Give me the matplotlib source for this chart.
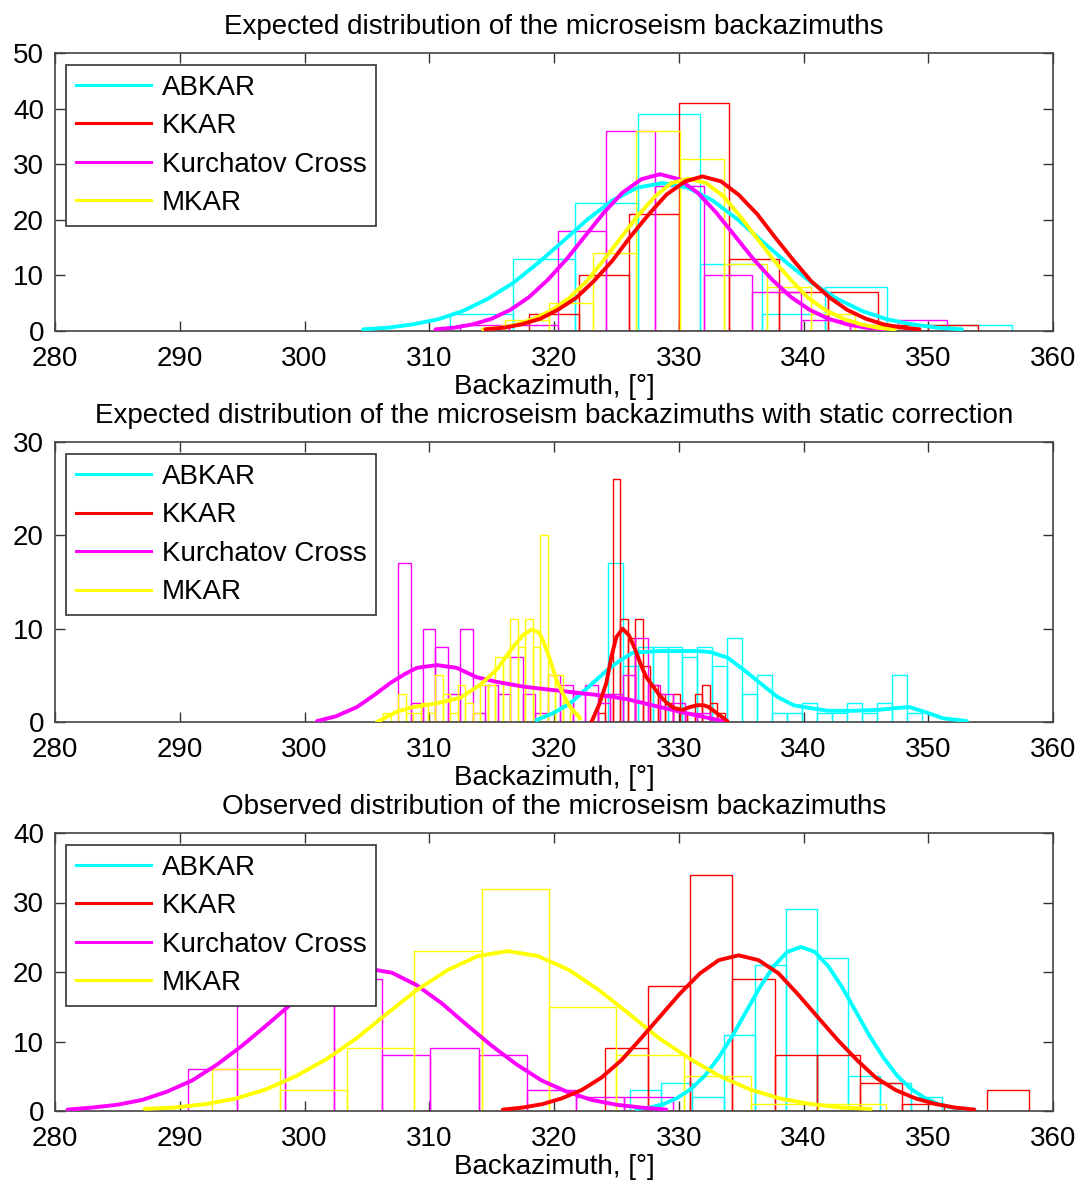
import numpy as np
import matplotlib
matplotlib.use('agg')
import matplotlib.pyplot as plt
from matplotlib.lines import Line2D

plt.rcParams['font.family'] = ['Liberation Sans', 'DejaVu Sans']

names = ['ABKAR', 'KKAR', 'Kurchatov Cross', 'MKAR']
colors = ['#00ffff', '#ff0000', '#ff00ff', '#ffff00']
xticks = [280, 290, 300, 310, 320, 330, 340, 350, 360]
titles = ['Expected distribution of the microseism backazimuths',
          'Expected distribution of the microseism backazimuths with static correction',
          'Observed distribution of the microseism backazimuths']
ymaxes = [50, 30, 40]
xlabel = 'Backazimuth, [\u00b0]'

# --- panel 1: expected ---------------------------------------------------
# histogram: first bin edge, bin width, counts  (ABKAR, KKAR, Kurchatov, MKAR)
p1_start = [311.7, 318.0, 312.5, 316.1]
p1_width = [5.0, 4.0, 3.9, 3.5]
p1_counts = [
    [3, 13, 23, 39, 12, 3, 8, 1, 1],
    [3, 10, 21, 41, 13, 7, 7, 1, 1],
    [1, 1, 18, 36, 26, 10, 7, 2, 1, 2],
    [2, 5, 14, 36, 31, 12, 8, 3, 1],
]
p1_fit_x = [
    [304.7, 306.7, 308.7, 310.7, 312.7, 314.7, 316.7, 318.7, 320.7, 322.7, 324.7, 326.7, 328.7,
     330.7, 332.7, 334.7, 336.7, 338.7, 340.7, 342.7, 344.7, 346.7, 348.7, 350.7, 352.7],
    [314.5, 316.0, 317.4, 318.9, 320.3, 321.8, 323.2, 324.7, 326.1, 327.6, 329.0, 330.5, 331.9,
     333.4, 334.8, 336.3, 337.7, 339.2, 340.6, 342.1, 343.5, 345.0, 346.4, 347.9, 349.3],
    [310.5, 312.0, 313.5, 315.0, 316.5, 318.0, 319.5, 321.0, 322.5, 324.0, 325.5, 327.0, 328.5,
     330.0, 331.5, 333.0, 334.5, 336.0, 337.5, 339.0, 340.5, 342.0, 343.5, 345.0, 346.5],
    [314.3, 315.7, 317.1, 318.4, 319.8, 321.2, 322.6, 323.9, 325.3, 326.7, 328.1, 329.4, 330.8,
     332.2, 333.6, 334.9, 336.3, 337.7, 339.1, 340.4, 341.8, 343.2, 344.6, 345.9, 347.3],
]
p1_fit_y = [
    [0.3, 0.6, 1.2, 2.1, 3.6, 5.8, 8.6, 12.2, 16.1, 20.1, 23.5, 25.8, 26.6,
     25.8, 23.5, 20.1, 16.1, 12.2, 8.6, 5.8, 3.6, 2.1, 1.2, 0.6, 0.3],
    [0.3, 0.6, 1.2, 2.2, 3.8, 6.0, 9.0, 12.7, 16.9, 21.0, 24.5, 26.9, 27.8,
     26.9, 24.5, 21.0, 16.9, 12.7, 9.0, 6.0, 3.8, 2.2, 1.2, 0.6, 0.3],
    [0.3, 0.6, 1.2, 2.2, 3.8, 6.1, 9.2, 12.9, 17.1, 21.3, 24.9, 27.3, 28.2,
     27.3, 24.9, 21.3, 17.1, 12.9, 9.2, 6.1, 3.8, 2.2, 1.2, 0.6, 0.3],
    [0.3, 0.6, 1.2, 2.2, 3.7, 5.9, 8.9, 12.5, 16.6, 20.7, 24.2, 26.6, 27.4,
     26.6, 24.2, 20.7, 16.6, 12.5, 8.9, 5.9, 3.7, 2.2, 1.2, 0.6, 0.3],
]

# --- panel 2: expected with static correction -------------------------------
p2_start = [324.3, 323.5, 307.5, 305.7]
p2_width = [1.2, 0.6, 1.0, 0.6]
p2_counts = [
    [17, 6, 8, 8, 8, 7, 8, 6, 9, 3, 5, 1, 1, 2, 1, 1, 2, 1, 2, 5, 1],
    [1, 3, 26, 11, 9, 11, 6, 4, 3, 2, 3, 1, 1, 3, 4, 2, 1],
    [17, 2, 10, 8, 3, 10, 1, 4, 3, 7, 3, 1, 5, 4, 3, 4, 2, 3, 5, 9, 4, 3, 2, 1, 1],
    [0, 1, 0, 3, 1, 1, 2, 1, 5, 3, 1, 4, 2, 1, 4, 4, 7, 7, 11, 8, 11, 8, 20, 5, 5, 2, 1],
]
p2_fit_x = [
    [318.6, 320.0, 321.3, 322.8, 324.3, 325.3, 326.3, 327.1, 328.5, 330.0, 331.5, 332.5, 333.9,
     335.2, 336.5, 337.9, 339.2, 340.5, 342.0, 344.0, 346.0, 347.5, 348.5, 349.9, 351.2, 353.1],
    [323.0, 323.6, 324.2, 324.6, 325.0, 325.5, 326.0, 326.5, 327.0, 327.4, 328.0, 328.5, 329.0,
     329.6, 330.3, 330.9, 331.5, 332.0, 332.4, 332.7, 333.3, 333.9],
    [301.0, 302.5, 304.2, 305.5, 306.9, 308.0, 309.0, 310.6, 312.2, 313.8, 315.4, 317.5, 319.4,
     322.1, 324.7, 326.0, 328.5, 331.1, 333.9],
    [305.8, 307.4, 308.7, 310.6, 312.5, 314.1, 315.4, 316.7, 317.5, 318.2, 318.8, 319.1, 319.6,
     320.2, 320.8, 321.3, 322.1],
]
p2_fit_y = [
    [0.2, 1.0, 2.0, 3.8, 5.6, 6.6, 7.4, 7.5, 7.6, 7.6, 7.6, 7.5, 6.9,
     5.6, 4.2, 2.7, 1.8, 1.5, 1.2, 1.2, 1.3, 1.5, 1.6, 1.0, 0.4, 0.1],
    [0.0, 1.8, 4.2, 7.0, 9.1, 10.0, 9.3, 7.8, 6.0, 4.8, 3.7, 2.8, 2.1,
     1.5, 1.3, 1.6, 1.8, 1.8, 1.6, 1.3, 0.7, 0.1],
    [0.1, 0.6, 1.6, 2.8, 4.2, 5.1, 5.8, 6.1, 5.8, 4.8, 4.3, 3.8, 3.5,
     3.1, 2.7, 2.4, 1.6, 0.8, 0.0],
    [0.0, 1.1, 1.6, 2.0, 2.6, 4.0, 5.6, 8.0, 9.3, 9.9, 9.6, 8.8, 7.0,
     4.5, 2.8, 1.6, 0.4],
]

# --- panel 3: observed -------------------------------------------------------
p3_start = [326.1, 324.1, 290.7, 292.6]
p3_width = [2.5, 3.4, 3.88, 5.4]
p3_counts = [
    [3, 4, 2, 11, 21, 29, 22, 5, 4, 2],
    [9, 18, 34, 19, 8, 8, 4, 1, 0, 3],
    [6, 17, 22, 19, 8, 9, 8, 3, 2, 2],
    [6, 3, 9, 23, 32, 15, 8, 5, 1, 1],
]
p3_fit_x = [
    [326.6, 327.7, 328.8, 329.9, 331.0, 332.1, 333.2, 334.3, 335.4, 336.5, 337.6, 338.7, 339.8,
     340.9, 342.0, 343.1, 344.2, 345.3, 346.4, 347.5, 348.6, 349.7, 350.8, 351.9, 353.0],
    [315.9, 317.5, 319.1, 320.6, 322.2, 323.8, 325.4, 326.9, 328.5, 330.1, 331.7, 333.2, 334.8,
     336.4, 338.0, 339.5, 341.1, 342.7, 344.3, 345.8, 347.4, 349.0, 350.6, 352.1, 353.7],
    [281, 283, 285, 287, 289, 291, 293, 295, 297, 299, 301, 303, 305,
     307, 309, 311, 313, 315, 317, 319, 321, 323, 325, 327, 329],
    [287.2, 289.6, 292.1, 294.5, 296.9, 299.3, 301.8, 304.2, 306.6, 309.0, 311.5, 313.9, 316.3,
     318.7, 321.2, 323.6, 326.0, 328.4, 330.9, 333.3, 335.7, 338.1, 340.6, 343.0, 345.4],
]
p3_fit_y = [
    [0.3, 0.5, 1.0, 1.9, 3.2, 5.1, 7.7, 10.8, 14.3, 17.8, 20.8, 22.9, 23.6,
     22.9, 20.8, 17.8, 14.3, 10.8, 7.7, 5.1, 3.2, 1.9, 1.0, 0.5, 0.3],
    [0.2, 0.5, 1.0, 1.8, 3.0, 4.8, 7.3, 10.3, 13.6, 16.9, 19.8, 21.7, 22.4,
     21.7, 19.8, 16.9, 13.6, 10.3, 7.3, 4.8, 3.0, 1.8, 1.0, 0.5, 0.2],
    [0.2, 0.5, 0.9, 1.6, 2.8, 4.4, 6.7, 9.4, 12.4, 15.5, 18.1, 19.9, 20.5,
     19.9, 18.1, 15.5, 12.4, 9.4, 6.7, 4.4, 2.8, 1.6, 0.9, 0.5, 0.2],
    [0.3, 0.5, 1.0, 1.8, 3.1, 5.0, 7.5, 10.5, 14.0, 17.4, 20.3, 22.3, 23.0,
     22.3, 20.3, 17.4, 14.0, 10.5, 7.5, 5.0, 3.1, 1.8, 1.0, 0.5, 0.3],
]

starts = [p1_start, p2_start, p3_start]
widths = [p1_width, p2_width, p3_width]
counts = [p1_counts, p2_counts, p3_counts]
fit_x = [p1_fit_x, p2_fit_x, p3_fit_x]
fit_y = [p1_fit_y, p2_fit_y, p3_fit_y]

W, H = 1083, 1186
fig = plt.figure(figsize=(W / 100, H / 100), dpi=100)
fig.patch.set_facecolor('white')

# axes boxes in pixels: (top, bottom)
boxes = [(53, 331), (442, 722), (833, 1111)]
left, right = 55, 1053

curve_order = [0, 2, 3, 1]

for k in range(3):
    top, bot = boxes[k]
    ax = fig.add_axes([left / W, 1 - bot / H, (right - left) / W, (bot - top) / H])

    for i in range(4):
        c = counts[k][i]
        lefts = starts[k][i] + widths[k][i] * np.arange(len(c))
        ax.bar(lefts, c, width=widths[k][i], align='edge', fill=False,
               edgecolor=colors[i], linewidth=1.0, zorder=2)
    for i in curve_order:
        ax.plot(fit_x[k][i], fit_y[k][i], color=colors[i], lw=2.8,
                solid_capstyle='round', zorder=3)

    ax.set_xlim(280, 360)
    ax.set_ylim(0, ymaxes[k])
    ax.set_xticks(xticks)
    ax.set_yticks(range(0, ymaxes[k] + 1, 10))
    ax.tick_params(direction='in', top=True, right=True, length=7, width=1.0,
                   color='#333333', labelsize=20)
    ax.tick_params(axis='x', pad=11)
    ax.tick_params(axis='y', pad=8)
    for s in ax.spines.values():
        s.set_color('#444444')
        s.set_linewidth(1.2)
    ax.set_title(titles[k], fontsize=20, pad=14)
    ax.set_xlabel(xlabel, fontsize=20, labelpad=1)

    handles = [Line2D([], [], color=colors[i], lw=2.2) for i in range(4)]
    leg = ax.legend(handles, names, loc='upper left', bbox_to_anchor=(0.011, 0.957),
                    borderaxespad=0, fontsize=20, frameon=True, fancybox=False,
                    framealpha=1, edgecolor='#333333', handlelength=2.7,
                    handletextpad=0.4, labelspacing=0.45, borderpad=0.35)
    leg.get_frame().set_linewidth(1.2)
    leg.set_zorder(5)

fig.savefig('out.png', dpi=100)
